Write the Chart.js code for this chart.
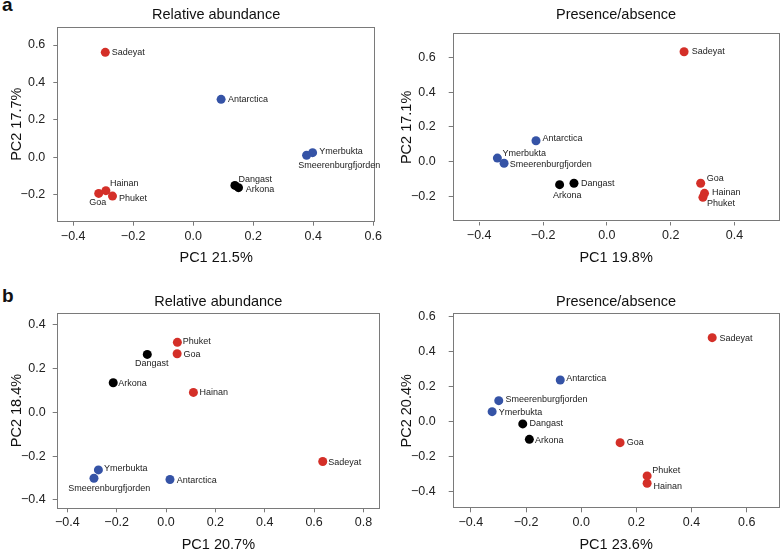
<!DOCTYPE html>
<html>
<head>
<meta charset="utf-8">
<script src="https://cdn.jsdelivr.net/npm/chart.js@4.4.1/dist/chart.umd.min.js"></script>
<style>
  body { margin: 0; background: #fff; }
  #wrap { position: relative; width: 781px; height: 554px; overflow: hidden; font-family: "Liberation Sans", Arial, sans-serif; }
  canvas { position: absolute; }
  .tag { position: absolute; left: 2px; font-weight: bold; font-size: 19px; line-height: 19px; color: #111; }
</style>
</head>
<body>
<div id="wrap">
  <div class="tag" style="top:-5px">a</div>
  <div class="tag" style="top:286px">b</div>
  <canvas id="c1" width="390" height="270" style="left:0;top:0"></canvas>
  <canvas id="c2" width="396" height="270" style="left:390px;top:0"></canvas>
  <canvas id="c3" width="390" height="284" style="left:0;top:270px"></canvas>
  <canvas id="c4" width="396" height="284" style="left:390px;top:270px"></canvas>
</div>
<script>
// sampling sites and their group (tropical / polar / Baltic-North Sea)
var sites = ['Sadeyat', 'Goa', 'Hainan', 'Phuket', 'Antarctica', 'Ymerbukta', 'Smeerenburgfjorden', 'Dangast', 'Arkona'];
var siteGroup = ['warm', 'warm', 'warm', 'warm', 'cold', 'cold', 'cold', 'temp', 'temp'];
var groupColor = { warm: '#d42f28', cold: '#3553a6', temp: '#000000' };

// a: relative abundance
var aRelPC1 = [-0.293, -0.315, -0.291, -0.269, 0.093, 0.398, 0.378, 0.139, 0.151];
var aRelPC2 = [0.561, -0.193, -0.178, -0.207, 0.310, 0.025, 0.011, -0.150, -0.162];
// a: presence/absence
var aPresPC1 = [0.242, 0.294, 0.306, 0.301, -0.222, -0.343, -0.322, -0.103, -0.148];
var aPresPC2 = [0.633, -0.124, -0.182, -0.205, 0.121, 0.021, -0.009, -0.124, -0.132];
// b: relative abundance
var bRelPC1 = [0.635, 0.045, 0.111, 0.046, 0.016, -0.274, -0.292, -0.076, -0.214];
var bRelPC2 = [-0.225, 0.266, 0.090, 0.318, -0.307, -0.263, -0.301, 0.263, 0.134];
// b: presence/absence
var bPresPC1 = [0.475, 0.141, 0.239, 0.239, -0.076, -0.323, -0.299, -0.212, -0.188];
var bPresPC2 = [0.480, -0.120, -0.352, -0.310, 0.238, 0.057, 0.120, -0.013, -0.101];

// tick labels
var aRelXTicks = [-0.4, -0.2, 0, 0.2, 0.4, 0.6];
var aRelYTicks = [-0.2, 0, 0.2, 0.4, 0.6];
var aPresXTicks = [-0.4, -0.2, 0, 0.2, 0.4];
var aPresYTicks = [-0.2, 0, 0.2, 0.4, 0.6];
var bRelXTicks = [-0.4, -0.2, 0, 0.2, 0.4, 0.6, 0.8];
var bRelYTicks = [-0.4, -0.2, 0, 0.2, 0.4];
var bPresXTicks = [-0.4, -0.2, 0, 0.2, 0.4, 0.6];
var bPresYTicks = [-0.4, -0.2, 0, 0.2, 0.4, 0.6];

var FONT = '"Liberation Sans", Arial, sans-serif';
Chart.defaults.font.family = FONT;

// layout of each panel: canvas-relative plot box [left, top, right, bottom], axis ranges, label nudges
var panels = [
  { id: 'c1', title: 'Relative abundance', xTitle: 'PC1 21.5%', yTitle: 'PC2 17.7%',
    pc1: aRelPC1, pc2: aRelPC2, xTicks: aRelXTicks, yTicks: aRelYTicks,
    w: 390, h: 270, box: [57.3, 26.7, 375, 221.7], xr: [-0.453, 0.606], yr: [-0.344, 0.698],
    titleY: 15, xTitleOff: 12.3, yGap: 12,
    nudge: [[6.5, 0], [-9.4, 9.4], [4, -7.4], [6.6, 2.3], [7, 0], [6.6, -1], [-8.4, 10.7], [3.7, -6], [7.3, 2.3]] },
  { id: 'c2', title: 'Presence/absence', xTitle: 'PC1 19.8%', yTitle: 'PC2 17.1%',
    pc1: aPresPC1, pc2: aPresPC2, xTicks: aPresXTicks, yTicks: aPresYTicks,
    w: 396, h: 270, box: [62.7, 33.3, 389.5, 221.5], xr: [-0.483, 0.541], yr: [-0.344, 0.739],
    titleY: 15, xTitleOff: 11.7, yGap: 17,
    nudge: [[7.7, 0], [6, -4.3], [7.4, -1], [4, 6], [6.4, -1.7], [5, -4.7], [5.7, 1.7], [7, 0], [-6.7, 11.3]] },
  { id: 'c3', title: 'Relative abundance', xTitle: 'PC1 20.7%', yTitle: 'PC2 18.4%',
    pc1: bRelPC1, pc2: bRelPC2, xTicks: bRelXTicks, yTicks: bRelYTicks,
    w: 390, h: 284, box: [56.7, 42.7, 380, 238.3], xr: [-0.443, 0.867], yr: [-0.438, 0.453],
    titleY: 31.7, xTitleOff: 9, yGap: 11,
    nudge: [[5.6, 1.3], [6.3, 0.7], [6, 0], [5.4, -1.3], [6.7, 1], [5.7, -1], [-25.7, 10.6], [-12.3, 9.3], [5, 1]] },
  { id: 'c4', title: 'Presence/absence', xTitle: 'PC1 23.6%', yTitle: 'PC2 20.4%',
    pc1: bPresPC1, pc2: bPresPC2, xTicks: bPresXTicks, yTicks: bPresYTicks,
    w: 396, h: 284, box: [62.7, 43.3, 389.5, 238.3], xr: [-0.466, 0.719], yr: [-0.495, 0.619],
    titleY: 31.7, xTitleOff: 9, yGap: 17,
    nudge: [[7.3, 0.6], [6.6, 0], [6.3, 3.4], [5, -5.3], [6, -1.7], [6.6, 1], [6.7, -0.7], [6.7, 0], [5.7, 0.7]] }
];

function fmt(v) {
  return (v < 0 ? '\u2212' : '') + Math.abs(v).toFixed(1);
}

// box round the plot region plus the site names beside the points
function framePlugin(p) {
  return {
    id: 'frame',
    afterDraw: function (chart) {
      var ctx = chart.ctx, a = chart.chartArea;
      ctx.save();
      ctx.strokeStyle = '#7a7a7a';
      ctx.lineWidth = 1;
      ctx.strokeRect(Math.round(a.left) + 0.5, Math.round(a.top) + 0.5,
        Math.round(a.right - a.left) - 1, Math.round(a.bottom - a.top) - 1);
      ctx.font = '9px ' + FONT;
      ctx.fillStyle = '#222';
      ctx.textAlign = 'left';
      ctx.textBaseline = 'middle';
      chart.getDatasetMeta(0).data.forEach(function (pt, i) {
        ctx.fillText(sites[i], pt.x + p.nudge[i][0], pt.y + p.nudge[i][1]);
      });
      ctx.restore();
    }
  };
}

panels.forEach(function (p) {
  var pts = p.pc1.map(function (x, i) { return { x: x, y: p.pc2[i] }; });
  var grid = { display: true, drawOnChartArea: false, drawTicks: true, tickLength: 4, color: '#7a7a7a' };
  new Chart(document.getElementById(p.id), {
    type: 'scatter',
    data: {
      datasets: [{
        data: pts,
        pointRadius: 4.5,
        pointBorderWidth: 0,
        pointBackgroundColor: siteGroup.map(function (g) { return groupColor[g]; })
      }]
    },
    options: {
      responsive: false,
      animation: false,
      layout: { padding: { left: 0, top: 0, right: p.w - p.box[2], bottom: 0 } },
      plugins: {
        legend: { display: false },
        tooltip: { enabled: false },
        title: {
          display: true, text: p.title, fullSize: false, color: '#111',
          font: { size: 14.5, weight: 'normal' },
          padding: { top: p.titleY - 8.7, bottom: p.box[1] - p.titleY - 8.7 }
        }
      },
      scales: {
        x: {
          type: 'linear', min: p.xr[0], max: p.xr[1],
          afterBuildTicks: function (s) { s.ticks = p.xTicks.map(function (v) { return { value: v }; }); },
          afterFit: function (s) {
            s.height = p.h - p.box[3];
            s.paddingLeft = 0;
            s.paddingRight = 0;
          },
          grid: grid,
          border: { display: false },
          ticks: { font: { size: 12.5 }, color: '#222', padding: 3, maxRotation: 0, autoSkip: false, callback: fmt },
          title: { display: true, text: p.xTitle, color: '#111', font: { size: 14.5 },
                   padding: { top: 0, bottom: p.xTitleOff - 8.7 } }
        },
        y: {
          type: 'linear', min: p.yr[0], max: p.yr[1],
          afterBuildTicks: function (s) { s.ticks = p.yTicks.map(function (v) { return { value: v }; }); },
          afterFit: function (s) {
            s.width = p.box[0];
            s.paddingTop = 0;
            s.paddingBottom = 0;
          },
          grid: grid,
          border: { display: false },
          ticks: { font: { size: 12.5 }, color: '#222', padding: p.yGap - 4, autoSkip: false, callback: fmt },
          title: { display: true, text: p.yTitle, color: '#111', font: { size: 14.5 },
                   padding: { top: 8.3, bottom: 0 } }
        }
      }
    },
    plugins: [framePlugin(p)]
  });
});
</script>
</body>
</html>
